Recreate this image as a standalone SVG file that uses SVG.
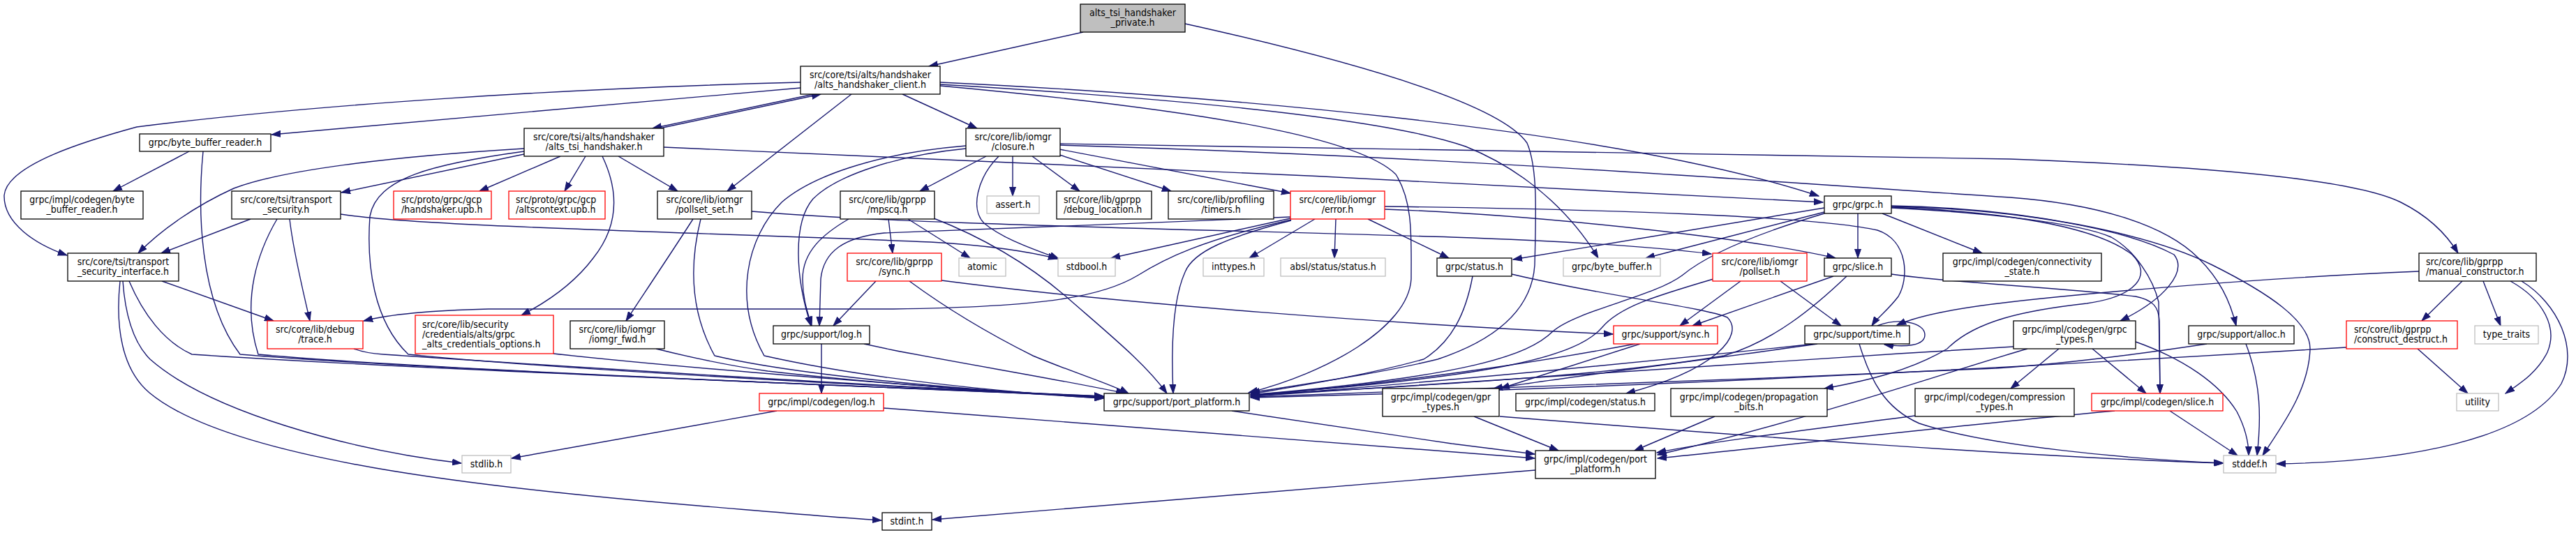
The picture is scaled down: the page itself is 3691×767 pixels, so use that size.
<svg xmlns="http://www.w3.org/2000/svg" width="3691" height="767" viewBox="0 0 3691 767">
<style>
.n rect{stroke-width:1.3}
.b rect{fill:#fff;stroke:#000}
.r rect{fill:#fff;stroke:#f00}
.g rect{fill:#fff;stroke:#bfbfbf}
.m rect{fill:#bfbfbf;stroke:#000}
text{font-family:"DejaVu Sans Condensed","DejaVu Sans","Liberation Sans",sans-serif;font-stretch:condensed;font-size:14px;text-anchor:middle;fill:#000}
text.l{text-anchor:start}
#edges path{fill:none;stroke:#191970;stroke-width:1.4;marker-end:url(#a)}
</style>
<defs>
<marker id="a" markerWidth="14" markerHeight="10" refX="13" refY="5" orient="auto" markerUnits="userSpaceOnUse"><path d="M0,0.5 L13,5 L0,9.5 z" fill="#191970" stroke="#191970" stroke-width="1"/></marker>
</defs>
<rect width="3691" height="767" fill="#fff"/>
<g id="edges">
<path d="M1552,46 L1331,95"/>
<path d="M1698,34 C1950,90 2150,150 2188,205 C2203,240 2201,300 2199,380 C2195,440 2150,485 2060,515 C1980,535 1860,552 1792,563"/>
<path d="M1147,118 C800,127 450,150 196,182 C130,200 10,235 6,280 C5,320 50,350 96,366"/>
<path d="M1147,126 L389,193"/>
<path d="M1166,135 L935,184"/>
<path d="M945,184 L1176,135"/>
<path d="M1220,135 L1042,274"/>
<path d="M1293,135 L1400,184"/>
<path d="M1347,118 C1700,135 2300,180 2606,281"/>
<path d="M1347,121 C1750,145 2000,175 2100,210 C2200,250 2260,320 2290,370"/>
<path d="M1347,123 C1750,160 1950,200 2000,250 C2025,290 2022,340 2022,400 C2018,470 1900,535 1789,563"/>
<path d="M751,213 C550,225 400,245 335,270 C280,295 230,330 198,363"/>
<path d="M751,221 L489,276"/>
<path d="M751,217 C620,235 540,255 530,310 C525,380 535,460 585,508 C800,530 1300,556 1581,568"/>
<path d="M803,224 L687,274"/>
<path d="M839,224 L809,274"/>
<path d="M863,224 C885,270 890,320 850,370 C820,410 780,435 747,452"/>
<path d="M886,224 L971,274"/>
<path d="M951,211 C1400,228 2100,262 2612,290"/>
<path d="M271,217 L162,274"/>
<path d="M291,217 C283,300 285,430 344,508 C600,530 1300,556 1581,569"/>
<path d="M359,314 L231,363"/>
<path d="M397,314 C370,360 345,430 370,508 C600,530 1300,556 1581,569"/>
<path d="M415,314 C420,360 435,420 444,460"/>
<path d="M488,307 C600,325 1000,333 1333,347 C1420,352 1480,362 1515,371"/>
<path d="M993,314 C970,350 930,410 897,460"/>
<path d="M1004,314 C990,370 985,440 1024,510 C1150,540 1400,560 1581,570"/>
<path d="M1077,303 C1300,322 1700,328 2080,340 C2250,346 2380,355 2452,364"/>
<path d="M1273,314 L1279,363"/>
<path d="M1301,314 L1390,370"/>
<path d="M1216,314 C1180,335 1150,360 1150,400 C1150,430 1158,450 1163,467"/>
<path d="M1338,313 C1420,345 1480,385 1525,423 C1590,480 1640,520 1672,564"/>
<path d="M1413,224 L1318,274"/>
<path d="M1451,224 L1451,281"/>
<path d="M1479,224 L1547,274"/>
<path d="M1518,222 L1678,274"/>
<path d="M1518,214 L1849,277"/>
<path d="M1431,224 C1400,255 1390,300 1410,320 C1440,345 1490,360 1517,371"/>
<path d="M1384,213 C1290,222 1200,250 1165,285 C1135,320 1140,400 1162,467"/>
<path d="M1384,209 C1250,220 1160,255 1120,290 C1070,340 1050,430 1095,510 C1250,545 1450,563 1581,571"/>
<path d="M1518,206 L2880,228 C3200,240 3380,260 3440,290 C3480,310 3505,335 3522,363"/>
<path d="M1518,208 C2100,225 2600,265 2880,283 C3000,292 3100,320 3150,370 C3180,400 3195,430 3204,467"/>
<path d="M1850,315 C1720,345 1670,370 1630,395 C1580,425 1500,440 1280,443 L700,443 C620,445 560,450 521,460"/>
<path d="M1850,316 C1760,340 1710,360 1698,390 C1680,430 1678,500 1681,564"/>
<path d="M1849,313 L1592,370"/>
<path d="M1884,314 L1790,370"/>
<path d="M1914,314 L1912,370"/>
<path d="M1960,314 L2076,370"/>
<path d="M1849,311 C1650,320 1400,328 1267,334 C1210,340 1180,360 1176,400 L1174,467"/>
<path d="M1984,296 C2300,300 2600,310 2690,330 C2735,345 2735,400 2720,425 C2705,445 2690,455 2682,467"/>
<path d="M1984,300 C2200,308 2500,340 2630,370"/>
<path d="M1255,403 L1194,467"/>
<path d="M1349,402 C1600,435 2000,465 2311,479"/>
<path d="M1303,403 C1360,445 1420,480 1480,510 C1540,535 1590,550 1617,564"/>
<path d="M1177,493 L1177,564"/>
<path d="M1238,493 L1280,502 C1400,525 1540,548 1612,564"/>
<path d="M1113,589 L733,657"/>
<path d="M1266,585 C1600,610 1950,638 2199,657"/>
<path d="M232,403 L392,460"/>
<path d="M185,403 C205,450 235,490 275,508 C600,530 1300,556 1581,568"/>
<path d="M176,403 C180,460 195,495 215,515 C300,590 500,645 661,664"/>
<path d="M172,403 C165,470 175,530 214,563 C330,660 700,700 1000,725 C1120,735 1200,742 1263,746"/>
<path d="M507,500 C520,505 535,507 549,508 C800,525 1300,556 1581,569"/>
<path d="M793,507 C1000,530 1400,560 1581,570"/>
<path d="M940,500 C1000,515 1050,525 1100,532 C1300,555 1500,566 1581,571"/>
<path d="M1765,589 L2080,636 L2199,651"/>
<path d="M2200,674 L1336,745"/>
<path d="M2110,396 C2100,450 2080,490 2040,515 C1950,540 1850,555 1792,565"/>
<path d="M2166,393 C2300,425 2440,440 2475,455 C2500,480 2460,530 2330,564"/>
<path d="M2614,298 L2168,372"/>
<path d="M2614,304 L2358,370"/>
<path d="M2614,306 C2500,340 2440,370 2410,395 C2370,425 2260,445 2225,475 C2190,510 2100,540 1792,566"/>
<path d="M2662,306 L2662,370"/>
<path d="M2697,306 L2840,363"/>
<path d="M2710,296 C2900,300 3050,330 3115,365 C3135,390 3100,430 3038,460"/>
<path d="M2710,297 C2900,305 3010,330 3055,365 C3085,395 3060,425 2990,435 C2900,445 2830,460 2790,500 C2740,530 2680,545 2614,557"/>
<path d="M2710,298 C2850,305 2980,320 3025,340 C3060,360 3085,400 3093,433 L3095,564"/>
<path d="M2710,393 C2790,405 2950,412 3060,425 C3085,430 3093,440 3094,460 L3095,564"/>
<path d="M2709,295 C2900,298 3080,335 3170,380 C3250,420 3310,460 3310,500 C3308,560 3270,610 3242,653"/>
<path d="M2494,403 L2407,467"/>
<path d="M2551,403 L2638,467"/>
<path d="M2455,400 C2370,425 2320,440 2295,470 C2260,510 2150,540 1792,566"/>
<path d="M2627,396 L2425,467"/>
<path d="M2646,396 C2600,440 2540,490 2470,510 C2300,540 2000,555 1792,566"/>
<path d="M2350,493 L2150,557"/>
<path d="M2343,493 C2200,520 2000,550 1792,567"/>
<path d="M2604,493 C2450,515 2250,540 2140,557"/>
<path d="M2600,493 C2300,525 2000,552 1792,568"/>
<path d="M2664,493 C2680,545 2700,585 2750,607 C2850,640 3050,658 3185,664"/>
<path d="M2690,467 C2720,455 2758,462 2758,480 C2758,496 2730,498 2700,494"/>
<path d="M3466,389 C3200,400 2950,425 2880,433 C2800,442 2750,452 2718,466"/>
<path d="M2457,597 L2342,646"/>
<path d="M2744,596 C2600,615 2450,633 2374,649"/>
<path d="M2950,500 L2881,557"/>
<path d="M2998,500 L3075,564"/>
<path d="M3060,490 C3130,515 3180,550 3205,590 C3218,615 3222,635 3222,653"/>
<path d="M2885,497 C2500,520 2100,548 1792,568"/>
<path d="M2905,500 C2800,530 2600,600 2375,652"/>
<path d="M3030,589 C2800,610 2500,645 2375,657"/>
<path d="M3109,589 L3206,653"/>
<path d="M2112,597 L2233,646"/>
<path d="M2149,597 C2500,625 2900,655 3186,664"/>
<path d="M3162,493 C3050,510 2950,522 2860,528 C2500,545 2100,557 1792,569"/>
<path d="M3218,493 C3240,550 3240,600 3234,653"/>
<path d="M3362,498 C3000,520 2400,555 1792,570"/>
<path d="M3464,500 L3536,564"/>
<path d="M3528,403 L3470,460"/>
<path d="M3558,403 L3583,467"/>
<path d="M3597,403 C3645,430 3665,470 3650,505 C3635,535 3610,550 3590,564"/>
<path d="M3613,403 C3665,435 3695,500 3670,550 C3620,630 3450,662 3262,665"/>
</g>
<g id="n_P" class="n m"><rect x="1548" y="6" width="150" height="40"/><text x="1623" y="23">alts_tsi_handshaker</text><text x="1623" y="37">_private.h</text></g>
<g id="n_AHC" class="n b"><rect x="1147" y="95" width="200" height="40"/><text x="1247" y="112">src/core/tsi/alts/handshaker</text><text x="1247" y="126">/alts_handshaker_client.h</text></g>
<g id="n_BBR" class="n b"><rect x="200" y="192" width="188" height="25"/><text x="294" y="208.5">grpc/byte_buffer_reader.h</text></g>
<g id="n_ATH" class="n b"><rect x="751" y="184" width="200" height="40"/><text x="851" y="201">src/core/tsi/alts/handshaker</text><text x="851" y="215">/alts_tsi_handshaker.h</text></g>
<g id="n_CBBR" class="n b"><rect x="30" y="274" width="175" height="40"/><text x="117.5" y="291">grpc/impl/codegen/byte</text><text x="117.5" y="305">_buffer_reader.h</text></g>
<g id="n_TS" class="n b"><rect x="332" y="274" width="156" height="40"/><text x="410" y="291">src/core/tsi/transport</text><text x="410" y="305">_security.h</text></g>
<g id="n_HUPB" class="n r"><rect x="564" y="274" width="140" height="40"/><text class="l" x="575" y="291">src/proto/grpc/gcp</text><text class="l" x="575" y="305">/handshaker.upb.h</text></g>
<g id="n_AUPB" class="n r"><rect x="729" y="274" width="138" height="40"/><text class="l" x="739" y="291">src/proto/grpc/gcp</text><text class="l" x="739" y="305">/altscontext.upb.h</text></g>
<g id="n_PSS" class="n b"><rect x="942" y="274" width="135" height="40"/><text x="1009.5" y="291">src/core/lib/iomgr</text><text x="1009.5" y="305">/pollset_set.h</text></g>
<g id="n_MPSCQ" class="n b"><rect x="1204" y="274" width="135" height="40"/><text x="1271.5" y="291">src/core/lib/gprpp</text><text x="1271.5" y="305">/mpscq.h</text></g>
<g id="n_CLO" class="n b"><rect x="1384" y="184" width="135" height="40"/><text x="1451.5" y="201">src/core/lib/iomgr</text><text x="1451.5" y="215">/closure.h</text></g>
<g id="n_TSI" class="n b"><rect x="97" y="363" width="159" height="40"/><text x="176.5" y="380">src/core/tsi/transport</text><text x="176.5" y="394">_security_interface.h</text></g>
<g id="n_TRACE" class="n r"><rect x="383" y="460" width="137" height="40"/><text x="451.5" y="477">src/core/lib/debug</text><text x="451.5" y="491">/trace.h</text></g>
<g id="n_GACO" class="n r"><rect x="595" y="452" width="198" height="55"/><text class="l" x="605" y="469.5">src/core/lib/security</text><text class="l" x="605" y="483.5">/credentials/alts/grpc</text><text class="l" x="605" y="497.5">_alts_credentials_options.h</text></g>
<g id="n_IFWD" class="n b"><rect x="817" y="460" width="135" height="40"/><text x="884.5" y="477">src/core/lib/iomgr</text><text x="884.5" y="491">/iomgr_fwd.h</text></g>
<g id="n_SLOG" class="n b"><rect x="1108" y="467" width="138" height="26"/><text x="1177" y="484">grpc/support/log.h</text></g>
<g id="n_CLOG" class="n r"><rect x="1088" y="564" width="178" height="25"/><text x="1177" y="580.5">grpc/impl/codegen/log.h</text></g>
<g id="n_STDLIB" class="n g"><rect x="662" y="653" width="70" height="25"/><text x="697" y="669.5">stdlib.h</text></g>
<g id="n_STDINT" class="n b"><rect x="1264" y="735" width="71" height="25"/><text x="1299.5" y="751.5">stdint.h</text></g>
<g id="n_GSYNC" class="n r"><rect x="1214" y="363" width="135" height="40"/><text x="1281.5" y="380">src/core/lib/gprpp</text><text x="1281.5" y="394">/sync.h</text></g>
<g id="n_ATOMIC" class="n g"><rect x="1374" y="370" width="67" height="26"/><text x="1407.5" y="387">atomic</text></g>
<g id="n_STDBOOL" class="n g"><rect x="1516" y="370" width="82" height="26"/><text x="1557" y="387">stdbool.h</text></g>
<g id="n_ASSERT" class="n g"><rect x="1414" y="281" width="75" height="25"/><text x="1451.5" y="297.5">assert.h</text></g>
<g id="n_DLOC" class="n b"><rect x="1514" y="274" width="136" height="40"/><text class="l" x="1524" y="291">src/core/lib/gprpp</text><text class="l" x="1524" y="305">/debug_location.h</text></g>
<g id="n_TIMERS" class="n b"><rect x="1674" y="274" width="151" height="40"/><text x="1749.5" y="291">src/core/lib/profiling</text><text x="1749.5" y="305">/timers.h</text></g>
<g id="n_ERR" class="n r"><rect x="1849" y="274" width="135" height="40"/><text x="1916.5" y="291">src/core/lib/iomgr</text><text x="1916.5" y="305">/error.h</text></g>
<g id="n_INTTYPES" class="n g"><rect x="1724" y="370" width="87" height="26"/><text x="1767.5" y="387">inttypes.h</text></g>
<g id="n_ABSL" class="n g"><rect x="1835" y="370" width="150" height="26"/><text x="1910" y="387">absl/status/status.h</text></g>
<g id="n_GSTATUS" class="n b"><rect x="2059" y="370" width="107" height="26"/><text x="2112.5" y="387">grpc/status.h</text></g>
<g id="n_PP" class="n b"><rect x="1582" y="564" width="208" height="25"/><text x="1686" y="580.5">grpc/support/port_platform.h</text></g>
<g id="n_GPRT" class="n b"><rect x="1981" y="557" width="167" height="40"/><text x="2064.5" y="574">grpc/impl/codegen/gpr</text><text x="2064.5" y="588">_types.h</text></g>
<g id="n_GRPC" class="n b"><rect x="2614" y="281" width="96" height="25"/><text x="2662" y="297.5">grpc/grpc.h</text></g>
<g id="n_BB" class="n g"><rect x="2240" y="370" width="139" height="26"/><text x="2309.5" y="387">grpc/byte_buffer.h</text></g>
<g id="n_POLLSET" class="n r"><rect x="2454" y="363" width="135" height="40"/><text x="2521.5" y="380">src/core/lib/iomgr</text><text x="2521.5" y="394">/pollset.h</text></g>
<g id="n_SLICE" class="n b"><rect x="2614" y="370" width="96" height="26"/><text x="2662" y="387">grpc/slice.h</text></g>
<g id="n_CONN" class="n b"><rect x="2784" y="363" width="227" height="40"/><text x="2897.5" y="380">grpc/impl/codegen/connectivity</text><text x="2897.5" y="394">_state.h</text></g>
<g id="n_SSYNC" class="n r"><rect x="2312" y="467" width="149" height="26"/><text x="2386.5" y="484">grpc/support/sync.h</text></g>
<g id="n_TIME" class="n b"><rect x="2586" y="467" width="150" height="26"/><text x="2661" y="484">grpc/support/time.h</text></g>
<g id="n_CSTATUS" class="n b"><rect x="2172" y="564" width="199" height="25"/><text x="2271.5" y="580.5">grpc/impl/codegen/status.h</text></g>
<g id="n_PROP" class="n b"><rect x="2394" y="557" width="224" height="40"/><text x="2506" y="574">grpc/impl/codegen/propagation</text><text x="2506" y="588">_bits.h</text></g>
<g id="n_COMP" class="n b"><rect x="2744" y="557" width="228" height="40"/><text x="2858" y="574">grpc/impl/codegen/compression</text><text x="2858" y="588">_types.h</text></g>
<g id="n_CPP" class="n b"><rect x="2200" y="646" width="172" height="40"/><text x="2286" y="663">grpc/impl/codegen/port</text><text x="2286" y="677">_platform.h</text></g>
<g id="n_GTYPES" class="n b"><rect x="2885" y="460" width="175" height="40"/><text x="2972.5" y="477">grpc/impl/codegen/grpc</text><text x="2972.5" y="491">_types.h</text></g>
<g id="n_ALLOC" class="n b"><rect x="3136" y="467" width="151" height="26"/><text x="3211.5" y="484">grpc/support/alloc.h</text></g>
<g id="n_CD" class="n r"><rect x="3362" y="460" width="159" height="40"/><text class="l" x="3373" y="477">src/core/lib/gprpp</text><text class="l" x="3373" y="491">/construct_destruct.h</text></g>
<g id="n_TT" class="n g"><rect x="3546" y="467" width="91" height="26"/><text x="3591.5" y="484">type_traits</text></g>
<g id="n_CSLICE" class="n r"><rect x="2997" y="564" width="188" height="25"/><text x="3091" y="580.5">grpc/impl/codegen/slice.h</text></g>
<g id="n_UTIL" class="n g"><rect x="3520" y="564" width="60" height="25"/><text x="3550" y="580.5">utility</text></g>
<g id="n_STDDEF" class="n g"><rect x="3186" y="653" width="75" height="25"/><text x="3223.5" y="669.5">stddef.h</text></g>
<g id="n_MC" class="n b"><rect x="3466" y="363" width="168" height="40"/><text class="l" x="3476" y="380">src/core/lib/gprpp</text><text class="l" x="3476" y="394">/manual_constructor.h</text></g>
</svg>
